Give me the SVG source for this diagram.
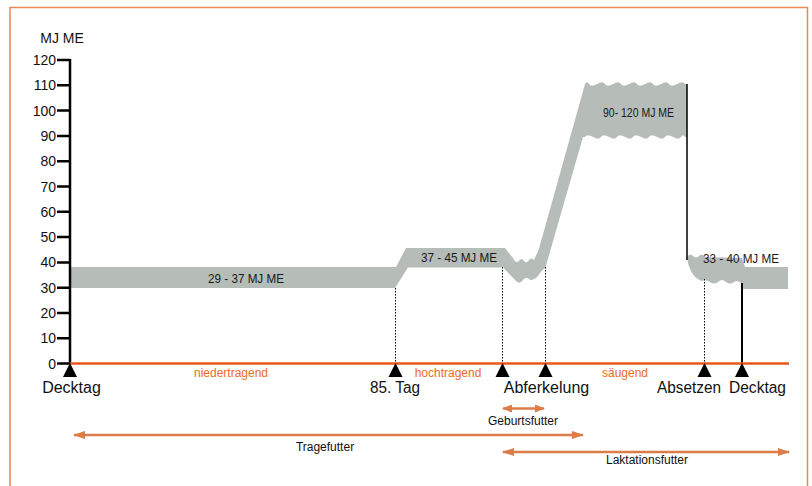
<svg xmlns="http://www.w3.org/2000/svg" width="812" height="486" viewBox="0 0 812 486">
<defs>
<style>
.ax{stroke:#000;stroke-width:2.5;fill:none}
.tk{font-family:"Liberation Sans",Arial,sans-serif;font-size:14px;fill:#111;text-anchor:end}
.lbl{font-family:"Liberation Sans",Arial,sans-serif;font-size:16px;fill:#111;text-anchor:middle}
.ph{font-family:"Liberation Sans",Arial,sans-serif;font-size:12px;fill:#ef6a24;text-anchor:middle}
.band{fill:#b6bdb8}
.bt{font-family:"Liberation Sans",Arial,sans-serif;font-size:13px;fill:#1a1a1a;text-anchor:middle}
.dot{stroke:#000;stroke-width:1;stroke-dasharray:1.5 1.5;fill:none}
.feed{stroke:#dc7d48;stroke-width:2.5;fill:none}
.ft{font-family:"Liberation Sans",Arial,sans-serif;font-size:12px;fill:#111;text-anchor:middle}
.tri{fill:#000}
</style>
<marker id="ah" viewBox="0 0 12 8" refX="11" refY="4" markerWidth="12" markerHeight="8" markerUnits="userSpaceOnUse" orient="auto-start-reverse">
<path d="M0,0 L12,4 L0,8 Z" fill="#dc7d48"/>
</marker>
<marker id="ahs" viewBox="0 0 10 8" refX="9" refY="4" markerWidth="10" markerHeight="8" markerUnits="userSpaceOnUse" orient="auto-start-reverse">
<path d="M0,0 L10,4 L0,8 Z" fill="#dc7d48"/>
</marker>
</defs>
<rect x="10" y="7.5" width="797.5" height="500" fill="#fff" stroke="#e8894f" stroke-width="1.5"/>

<g id="bands">
<path class="band" d="M70,267 H396 L406,248 H505 L513,258 Q516,264 519,261 Q521,257 524,261 Q527,264 529,260 Q531,257 534,260 L538.6,250 L585,84 Q587,80.5 589,84 T597,84 T605,84 T613,84 T621,84 T629,84 T637,84 T645,84 T653,84 T661,84 T669,84 T677,84 T685,84 L687,84 V137 L685,137 Q683,133.5 681,137 T673,137 T665,137 T657,137 T649,137 T641,137 T633,137 T625,137 T617,137 T609,137 T601,137 T593,137 T585,137 L583,137 L545.6,267 L540,273 Q537,278 534,279 Q531,281 529,279 Q526,276 523,280 Q520,285 516,281 L503,267.5 H408 L395,288 H70 Z"/>
<path class="band" d="M687,257 Q690,253 693,256 Q696,259 699,256 Q702,253 705,257 L742,258 L745,267 H788 V289 H742 V284 Q738,279 734,282 Q730,285 726,282 Q722,278 718,282 Q714,285 710,282 Q706,279 702,281 C694,279 688,268 687,257 Z"/>
<text class="bt" x="246" y="283" textLength="76" lengthAdjust="spacingAndGlyphs">29 - 37 MJ ME</text>
<text class="bt" x="459" y="262" textLength="76" lengthAdjust="spacingAndGlyphs">37 - 45 MJ ME</text>
<text class="bt" x="638.5" y="117" textLength="71" lengthAdjust="spacingAndGlyphs">90- 120 MJ ME</text>
<text class="bt" x="741" y="263" textLength="76" lengthAdjust="spacingAndGlyphs">33 - 40 MJ ME</text>
</g>

<g id="connectors">
<line x1="687" y1="84" x2="687" y2="260" stroke="#000" stroke-width="1.5"/>
<line x1="742" y1="283" x2="742" y2="363" stroke="#000" stroke-width="2"/>
<line class="dot" x1="395.5" y1="288" x2="395.5" y2="363"/>
<line class="dot" x1="502.5" y1="267" x2="502.5" y2="363"/>
<line class="dot" x1="545.5" y1="267" x2="545.5" y2="363"/>
<line class="dot" x1="704.5" y1="279" x2="704.5" y2="363"/>
<line class="feed" x1="503" y1="408.5" x2="544" y2="408.5" marker-start="url(#ahs)" marker-end="url(#ahs)"/>
<line class="feed" x1="74" y1="435" x2="583" y2="435" marker-start="url(#ah)" marker-end="url(#ah)"/>
<line class="feed" x1="503" y1="452" x2="789" y2="452" marker-start="url(#ah)" marker-end="url(#ah)"/>
</g>

<g id="axis">
<text x="62" y="42.5" font-family="Liberation Sans, Arial, sans-serif" font-size="14" fill="#111" text-anchor="middle">MJ ME</text>
<line class="ax" x1="70" y1="59" x2="70" y2="364"/>
<path class="ax" d="M57,60 H70 M57,85.3 H70 M57,110.6 H70 M57,135.9 H70 M57,161.2 H70 M57,186.5 H70 M57,211.8 H70 M57,237.1 H70 M57,262.4 H70 M57,287.7 H70 M57,313 H70 M57,338.3 H70 M57,363.5 H70"/>
<text class="tk" x="56" y="65">120</text>
<text class="tk" x="56" y="90.3">110</text>
<text class="tk" x="56" y="115.6">100</text>
<text class="tk" x="56" y="140.9">90</text>
<text class="tk" x="56" y="166.2">80</text>
<text class="tk" x="56" y="191.5">70</text>
<text class="tk" x="56" y="216.8">60</text>
<text class="tk" x="56" y="242.1">50</text>
<text class="tk" x="56" y="267.4">40</text>
<text class="tk" x="56" y="292.7">30</text>
<text class="tk" x="56" y="318">20</text>
<text class="tk" x="56" y="343.3">10</text>
<text class="tk" x="56" y="368.5">0</text>
<line x1="70" y1="363.5" x2="789" y2="363.5" stroke="#e8581c" stroke-width="2.5"/>
</g>

<g id="phases">
<text class="ph" x="231" y="377">niedertragend</text>
<text class="ph" x="448" y="377">hochtragend</text>
<text class="ph" x="625" y="377">säugend</text>
</g>

<g id="markers">
<path class="tri" d="M70,363 L77,377 L63,377 Z"/>
<path class="tri" d="M395.5,363 L402.5,377 L388.5,377 Z"/>
<path class="tri" d="M502.5,363 L509.5,377 L495.5,377 Z"/>
<path class="tri" d="M545.5,363 L552.5,377 L538.5,377 Z"/>
<path class="tri" d="M704.5,363 L711.5,377 L697.5,377 Z"/>
<path class="tri" d="M742,363 L749,377 L735,377 Z"/>
</g>

<g id="events">
<text class="lbl" x="71.5" y="393">Decktag</text>
<text class="lbl" x="395" y="393" textLength="50" lengthAdjust="spacingAndGlyphs">85. Tag</text>
<text class="lbl" x="546.5" y="393">Abferkelung</text>
<text class="lbl" x="689" y="393" textLength="64" lengthAdjust="spacingAndGlyphs">Absetzen</text>
<text class="lbl" x="757.5" y="393" textLength="57" lengthAdjust="spacingAndGlyphs">Decktag</text>
</g>

<g id="feeds">
<text class="ft" x="523" y="425">Geburtsfutter</text>
<text class="ft" x="325" y="451">Tragefutter</text>
<text class="ft" x="647" y="464">Laktationsfutter</text>
</g>
</svg>
